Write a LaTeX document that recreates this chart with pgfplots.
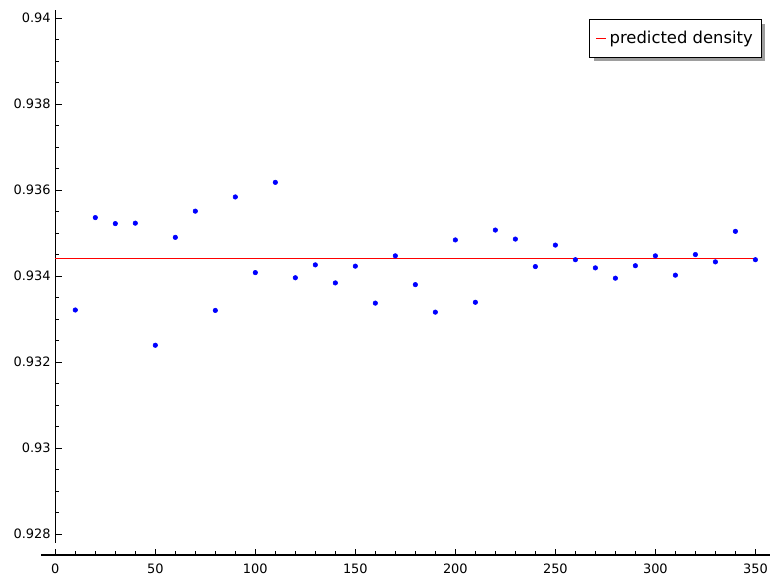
\documentclass[border=0pt]{standalone}
\usepackage{pgfplots}
\pgfplotsset{compat=1.18}
\usetikzlibrary{shadows}
\usepackage{fontspec}
\setmainfont{DejaVu Sans}

\begin{document}
\begin{tikzpicture}
\begin{axis}[
    scale only axis,
    width=546.75pt,
    height=408.75pt,
    xmin=-7.15, xmax=357.3,
    ymin=0.92751, ymax=0.94019,
    axis x line=bottom,
    axis y line=middle,
    axis line style={-, line width=1pt},
    y axis line style={shorten <=9pt},
    tick align=inside,
    tick style={black, line width=0.6pt},
    major tick length=4.8pt,
    minor tick length=2.8pt,
    xtick={0,50,...,350},
    minor x tick num=4,
    ytick={0.928,0.930,0.932,0.934,0.936,0.938,0.940},
    minor y tick num=3,
    hide obscured x ticks=false,
    hide obscured y ticks=false,
    scaled y ticks=false,
    yticklabel style={/pgf/number format/fixed, /pgf/number format/precision=3},
    xticklabel style={yshift=-3pt},
    /pgf/number format/assume math mode=true,
    ticklabel style={font=\fontsize{9.7}{11}\selectfont},
    legend style={
        at={(0.989,0.983)}, anchor=north east,
        draw=black, line width=0.8pt,
        fill=white,
        drop shadow={shadow xshift=3pt, shadow yshift=-3pt, fill=black!38, opacity=1},
        font=\fontsize{12.3}{14}\selectfont,
        inner xsep=4.5pt, inner ysep=6.6pt,
    },
    legend cell align=left,
    legend image code/.code={%
        \pgfpathmoveto{\pgfpoint{0pt}{0pt}}%
        \pgfpathlineto{\pgfpoint{7.5pt}{0pt}}%
        \pgfsetlinewidth{1pt}%
        \pgfsetstrokecolor{red}%
        \pgfusepath{stroke}},
    clip=false,
]
% predicted density
\addplot[red, line width=1pt] coordinates {(0,0.93441) (350,0.93441)};
\addlegendentry{predicted density}

% measured values
\addplot[only marks, mark=*, mark size=1.7pt, color=blue, forget plot] coordinates {
(10,0.93321) (20,0.93536) (30,0.93522) (40,0.93523) (50,0.93239)
(60,0.93490) (70,0.93551) (80,0.93320) (90,0.93584) (100,0.93408)
(110,0.93618) (120,0.93396) (130,0.93426) (140,0.93384) (150,0.93423)
(160,0.93337) (170,0.93447) (180,0.93380) (190,0.93316) (200,0.93484)
(210,0.93339) (220,0.93507) (230,0.93486) (240,0.93422) (250,0.93472)
(260,0.93438) (270,0.93419) (280,0.93395) (290,0.93424) (300,0.93447)
(310,0.93402) (320,0.93450) (330,0.93433) (340,0.93504) (350,0.93438)
};
\end{axis}
\path (current axis.south west) ++(-30.75pt,-22.5pt) coordinate (bbsw);
\path (current axis.north east) ++(7.5pt,7.5pt) coordinate (bbne);
\useasboundingbox (bbsw) rectangle (bbne);
\end{tikzpicture}
\end{document}
